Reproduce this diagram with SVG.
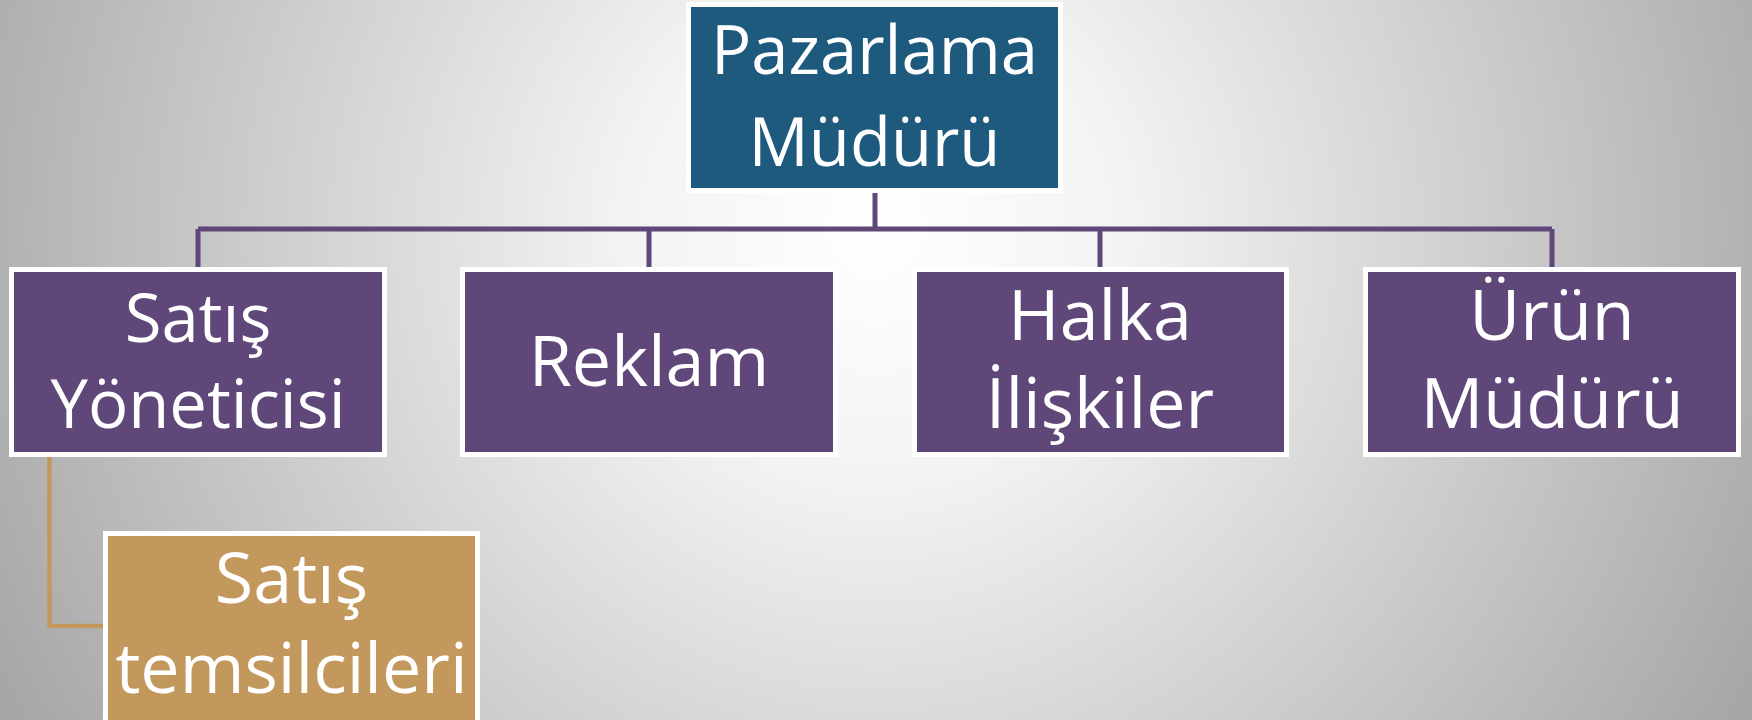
<svg xmlns="http://www.w3.org/2000/svg" width="1752" height="720" viewBox="0 0 1752 720">
  <defs>
    <radialGradient id="bg" gradientUnits="userSpaceOnUse" cx="876" cy="230" r="1000">
      <stop offset="0" stop-color="#ffffff"/>
      <stop offset="0.25" stop-color="#f3f3f3"/>
      <stop offset="1" stop-color="#a5a5a5"/>
    </radialGradient>
    <style>
      .box { stroke: #ffffff; stroke-width: 5; }
      .head { fill: #1d5a7d; }
      .unit { fill: #5f4879; }
      .rep { fill: #c3985c; }
      .lbl { font-family: "Open Sans", "Noto Sans", sans-serif; fill: #ffffff; text-anchor: middle; }
      .link { fill: none; stroke: #5f4879; stroke-width: 5; }
      .link-sub { fill: none; stroke: #c3985c; stroke-width: 4.5; }
    </style>
  </defs>

  <rect width="1752" height="720" fill="url(#bg)"/>

  <g id="connectors">
    <path class="link" d="M875 193 V229 M198 229 H1552 M198 229 V267 M649 229 V267 M1100 229 V267 M1552 229 V267"/>
    <path class="link-sub" d="M49.5 457 V626 H104"/>
  </g>

  <g id="pazarlama-muduru">
    <rect class="box head" x="688.5" y="4.5" width="372" height="186"/>
    <text class="lbl" font-size="67" x="874.5" y="74">Pazarlama</text>
    <text class="lbl" font-size="67" x="874.5" y="166">Müdürü</text>
  </g>

  <g id="satis-yoneticisi">
    <rect class="box unit" x="11.5" y="269.5" width="373" height="185"/>
    <text class="lbl" font-size="67" x="198" y="342">Satış</text>
    <text class="lbl" font-size="67" x="198" y="428">Yöneticisi</text>
  </g>

  <g id="reklam">
    <rect class="box unit" x="462.5" y="269.5" width="373" height="185"/>
    <text class="lbl" font-size="70" x="649" y="386">Reklam</text>
  </g>

  <g id="halka-iliskiler">
    <rect class="box unit" x="914.5" y="269.5" width="372" height="185"/>
    <text class="lbl" font-size="70" x="1100" y="340">Halka</text>
    <text class="lbl" font-size="70" x="1100" y="428">İlişkiler</text>
  </g>

  <g id="urun-muduru">
    <rect class="box unit" x="1365.5" y="269.5" width="373" height="185"/>
    <text class="lbl" font-size="70" x="1552" y="340">Ürün</text>
    <text class="lbl" font-size="70" x="1552" y="428">Müdürü</text>
  </g>

  <g id="satis-temsilcileri">
    <rect class="box rep" x="105.5" y="533.5" width="372" height="190"/>
    <text class="lbl" font-size="70" x="291.5" y="603">Satış</text>
    <text class="lbl" font-size="70" x="291.5" y="693">temsilcileri</text>
  </g>
</svg>
